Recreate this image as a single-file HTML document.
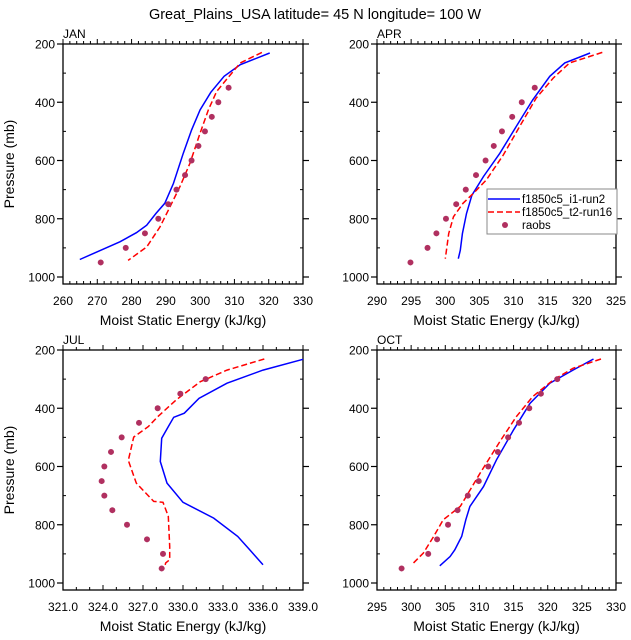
<!DOCTYPE html>
<html><head><meta charset="utf-8"><style>
html,body{margin:0;padding:0;background:#fff;}
svg{display:block;font-family:"Liberation Sans",Arial,sans-serif;}
</style></head><body>
<svg id="s" width="631" height="640" xmlns="http://www.w3.org/2000/svg">
<text x="315" y="19" font-size="14.5" text-anchor="middle">Great_Plains_USA  latitude= 45 N longitude= 100 W</text>
</svg>
<script>
var S=document.getElementById('s'),NS='http://www.w3.org/2000/svg';
function el(t,a,txt){var e=document.createElementNS(NS,t);for(var k in a)e.setAttribute(k,a[k]);if(txt!==undefined)e.textContent=txt;S.appendChild(e);return e;}
var panels=[
{name:'JAN',x0:63,x1:303,y0:44,y1000:277,yb:284,xmin:260,xmax:330,maj:10,minr:2,dec:0,
blue:[[320.3,231],[311.7,271],[307,311],[303.1,366],[300,426],[297.5,495],[295.1,575],[292.2,679],[289.7,747],[287.1,782],[284.4,822],[281.4,848],[276.6,879],[264.9,940]],
red:[[318,229],[311.7,265],[307.8,320],[304.8,363],[302.4,426],[300,506],[297,610],[294.1,690],[291.2,759],[288.3,828],[284.4,897],[279,943]],
obs:[[271,950],[278.3,900],[283.9,850],[287.8,800],[290.7,750],[293.1,700],[295.6,650],[297.5,600],[299.5,550],[301.4,500],[303.4,450],[305.3,400],[308.3,350]],ylab:true},
{name:'APR',x0:377,x1:616,y0:44,y1000:277,yb:284,xmin:290,xmax:325,maj:5,minr:1,dec:0,
blue:[[321.2,231],[317.5,265],[315.3,311],[312.8,392],[310.4,483],[308,575],[305.6,655],[303.9,719],[303.1,782],[302.5,851],[302.2,908],[301.9,937]],
red:[[323,229],[318.2,265],[315.8,317],[313.3,386],[310.9,483],[308.5,581],[306,667],[304.1,713],[302.6,747],[301.2,793],[300.5,851],[300,937]],
obs:[[294.9,950],[297.4,900],[298.7,850],[300.1,800],[301.6,750],[303,700],[304.5,650],[305.9,600],[307.1,550],[308.3,500],[309.8,450],[311.2,400],[313.1,350]],ylab:false,legend:true},
{name:'JUL',x0:63,x1:303,y0:350,y1000:583,yb:590,xmin:321,xmax:339,maj:3,minr:1,dec:1,
blue:[[339,232],[336,269],[333.3,314],[331.2,366],[330.1,417],[329.3,431],[328.9,463],[328.4,503],[328.3,583],[328.8,657],[330,723],[332.3,777],[334.1,840],[335,886],[336,937]],
red:[[336.1,231],[333.3,269],[331.3,309],[329.5,371],[328.1,429],[327.4,463],[326.3,499],[325.9,579],[326.5,657],[327.8,720],[328.5,723],[328.9,771],[329,874],[329,920],[328.7,931],[328.6,949]],
obs:[[328.4,950],[328.5,900],[327.3,850],[325.8,800],[324.7,750],[324.1,700],[323.9,650],[324.1,600],[324.6,550],[325.4,500],[326.7,450],[328.1,400],[329.8,350],[331.7,300]],ylab:true},
{name:'OCT',x0:377,x1:616,y0:350,y1000:583,yb:590,xmin:295,xmax:330,maj:5,minr:1,dec:0,
blue:[[326.7,231],[323.7,269],[320.3,314],[317.4,383],[315,474],[312.5,577],[310.6,669],[308.6,737],[308,783],[307.4,840],[306.4,886],[305.7,909],[304.2,941]],
red:[[327.8,231],[323.7,263],[320.8,303],[317.8,360],[315.4,429],[313,514],[310.1,623],[307.2,737],[304.7,783],[303.3,840],[301.8,897],[300.1,937]],
obs:[[298.6,950],[302.5,900],[303.8,850],[305.4,800],[306.8,750],[308.3,700],[309.9,650],[311.3,600],[312.7,550],[314.2,500],[315.8,450],[317.3,400],[319,350],[321.4,300]],ylab:false}
];
panels.forEach(function(P){
 var X=function(v){return P.x0+(v-P.xmin)*(P.x1-P.x0)/(P.xmax-P.xmin);};
 var Y=function(p){return P.y0+(p-200)*(P.y1000-P.y0)/800;};
 var n=Math.round((P.xmax-P.xmin)/P.minr);
 for(var i=0;i<=n;i++){var v=P.xmin+i*P.minr,x=X(v);var major=Math.abs(((v-P.xmin)/P.maj)-Math.round((v-P.xmin)/P.maj))<1e-6;var L=major?5:3;
  el('line',{x1:x,x2:x,y1:P.y0,y2:P.y0-L,stroke:'#000','stroke-width':1});
  el('line',{x1:x,x2:x,y1:P.yb,y2:P.yb-L,stroke:'#000','stroke-width':1});
  if(major)el('text',{x:x,y:P.yb+21,'font-size':12,'text-anchor':'middle'},v.toFixed(P.dec));}
 for(var p=200;p<=1000;p+=100){var y=Y(p);var major=(p%200===0);
  if(major){el('line',{x1:P.x0-6,x2:P.x0,y1:y,y2:y,stroke:'#000','stroke-width':1.2});el('line',{x1:P.x1,x2:P.x1+6,y1:y,y2:y,stroke:'#000','stroke-width':1.2});
   el('text',{x:P.x0-8,y:y+4.5,'font-size':12,'text-anchor':'end'},String(p));}
  else{el('line',{x1:P.x0,x2:P.x0+3,y1:y,y2:y,stroke:'#000'});el('line',{x1:P.x1-3,x2:P.x1,y1:y,y2:y,stroke:'#000'});}}
 el('rect',{x:P.x0,y:P.y0,width:P.x1-P.x0,height:P.yb-P.y0,fill:'none',stroke:'#000','stroke-width':1.3});
 el('text',{x:P.x0,y:P.y0-6,'font-size':12},P.name);
 el('text',{x:(P.x0+P.x1)/2,y:P.yb+41,'font-size':14,'text-anchor':'middle'},'Moist Static Energy (kJ/kg)');
 if(P.ylab){var cy=(P.y0+P.yb)/2;el('text',{x:14,y:cy,'font-size':14,'text-anchor':'middle',transform:'rotate(-90 14 '+cy+')'},'Pressure (mb)');}
 var pts=function(a){return a.map(function(q){return X(q[0]).toFixed(1)+','+Y(q[1]).toFixed(1);}).join(' ');};
 el('polyline',{points:pts(P.blue),fill:'none',stroke:'#0000ff','stroke-width':1.5});
 el('polyline',{points:pts(P.red),fill:'none',stroke:'#ff0000','stroke-width':1.5,'stroke-dasharray':'6,3'});
 P.obs.forEach(function(q){el('circle',{cx:X(q[0]),cy:Y(q[1]),r:3,fill:'#b03060'});});
 if(P.legend){
  el('rect',{x:487,y:189,width:130,height:45,fill:'#fff',stroke:'#888','stroke-width':1});
  el('line',{x1:488,x2:520,y1:199,y2:199,stroke:'#0000ff','stroke-width':1.5});
  el('line',{x1:488,x2:520,y1:212,y2:212,stroke:'#ff0000','stroke-width':1.5,'stroke-dasharray':'6,3'});
  el('circle',{cx:505,cy:225,r:3,fill:'#b03060'});
  el('text',{x:522,y:203,'font-size':11.5},'f1850c5_i1-run2');
  el('text',{x:522,y:216,'font-size':11.5},'f1850c5_t2-run16');
  el('text',{x:522,y:229,'font-size':11.5},'raobs');
 }
});
</script>
</body></html>
